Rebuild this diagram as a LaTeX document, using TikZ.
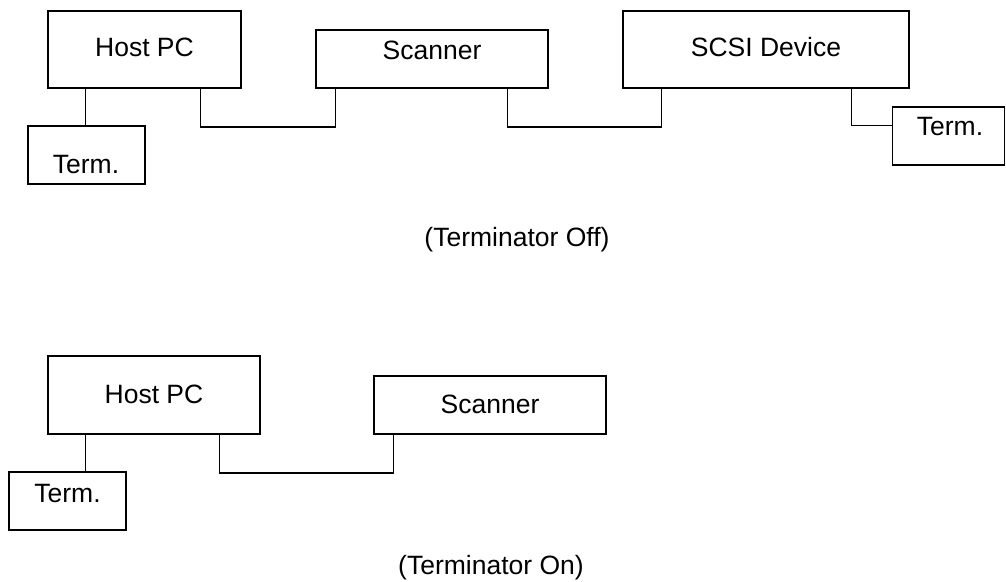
\documentclass[tikz,border=0pt]{standalone}
\usepackage{fontspec}
\setmainfont{Liberation Sans}
\usetikzlibrary{calc}
\tikzset{
  box/.style={draw=black, line width=1.5pt, rectangle, inner sep=0pt, fill=white},
  lbl/.style={anchor=base, inner sep=0pt, font=\fontsize{26.5}{30}\selectfont},
  wire/.style={draw=black, line width=1.5pt},
}
\begin{document}
\begin{tikzpicture}[x=1pt,y=-1pt]
\useasboundingbox (0,0) rectangle (1006,581);
% --- top row (Terminator Off)
\node[box, minimum width=193pt, minimum height=77pt] (hostA) at (144.5,49.5) {};
\node[box, minimum width=117pt, minimum height=58pt] (termA) at (86.5,155) {};
\node[box, minimum width=232pt, minimum height=58pt] (scanA) at (432,59) {};
\node[box, minimum width=286pt, minimum height=77pt] (scsiA) at (766,49.5) {};
\node[box, minimum width=112pt, minimum height=58pt] (termB) at (948.5,136) {};
\node[lbl] (hostAt) at (144.5,56) {Host PC};
\node[lbl] (termAt) at (86,173) {Term.};
\node[lbl] (scanAt) at (432,59.5) {Scanner};
\node[lbl] (scsiAt) at (766,56) {SCSI Device};
\node[lbl] (termBt) at (950,135) {Term.};
\node[lbl] (capA) at (517,246) {(Terminator Off)};
\draw[wire] ($(hostA.south west)+(38,0)$) -- ($(termA.north west)+(58,0)$);
\draw[wire] ($(hostA.south west)+(153,0)$) -- ++(0,38) -| ($(scanA.south west)+(20,0)$);
\draw[wire] ($(scanA.south west)+(192,0)$) -- ++(0,38) -| ($(scsiA.south west)+(39,0)$);
\draw[wire] ($(scsiA.south west)+(229,0)$) |- ($(termB.north west)+(0,19)$);
% --- bottom row (Terminator On)
\node[box, minimum width=212pt, minimum height=78pt] (hostC) at (154,395) {};
\node[box, minimum width=117pt, minimum height=58pt] (termC) at (67.5,501) {};
\node[box, minimum width=232pt, minimum height=58pt] (scanC) at (490,405) {};
\node[lbl] (hostCt) at (154,403) {Host PC};
\node[lbl] (termCt) at (67.5,502) {Term.};
\node[lbl] (scanCt) at (490,413) {Scanner};
\node[lbl] (capC) at (491,574.5) {(Terminator On)};
\draw[wire] ($(hostC.south west)+(38,0)$) -- ($(termC.north west)+(77,0)$);
\draw[wire] ($(hostC.south west)+(172,0)$) -- ++(0,38) -| ($(scanC.south west)+(20,0)$);
\end{tikzpicture}
\end{document}
